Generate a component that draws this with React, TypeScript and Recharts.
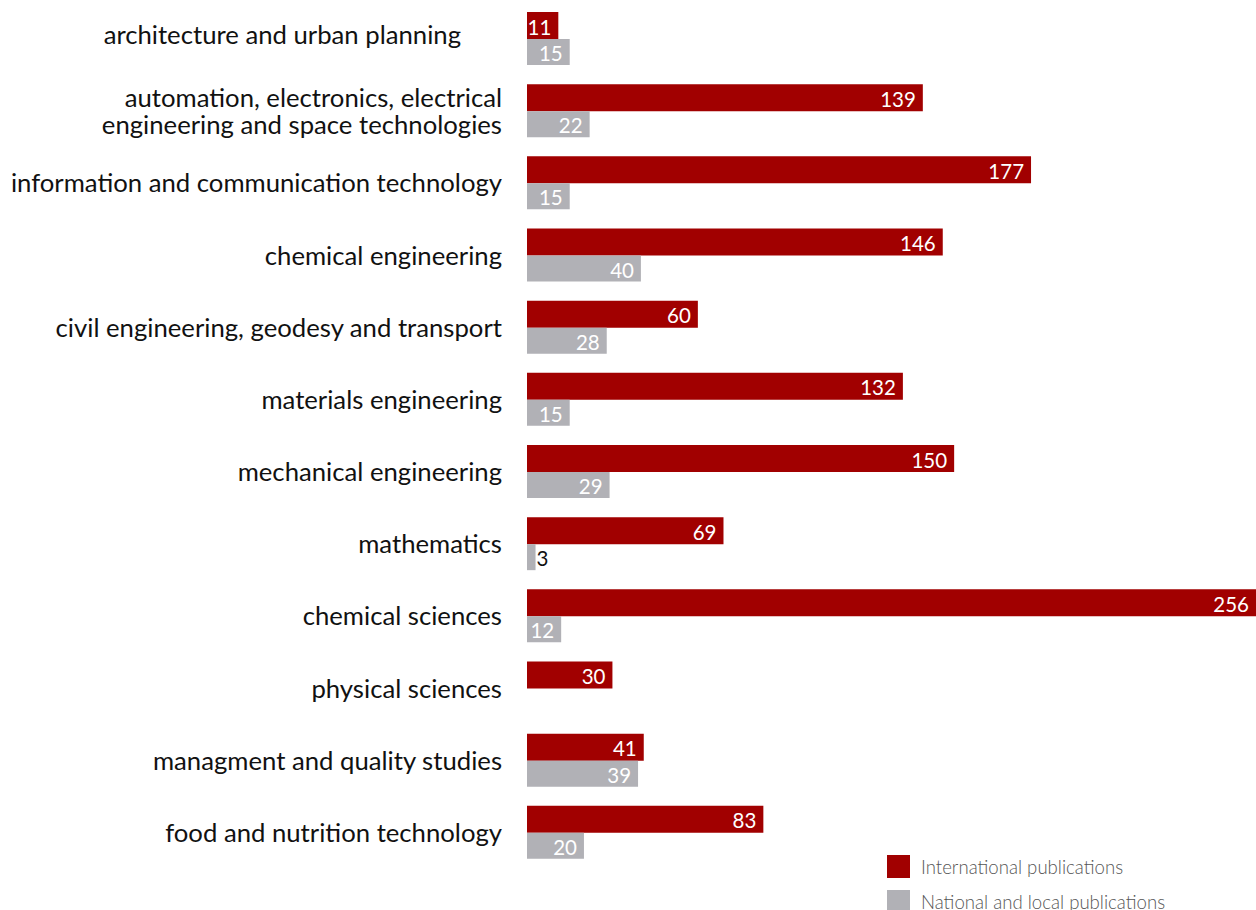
import React from "react";
import { BarChart, Bar, XAxis, YAxis, LabelList } from "recharts";

const categories = [
  "architecture and urban planning",
  "automation, electronics, electrical\nengineering and space technologies",
  "information and communication technology",
  "chemical engineering",
  "civil engineering, geodesy and transport",
  "materials engineering",
  "mechanical engineering",
  "mathematics",
  "chemical sciences",
  "physical sciences",
  "managment and quality studies",
  "food and nutrition technology",
];

const international = [11, 139, 177, 146, 60, 132, 150, 69, 256, 30, 41, 83];
const national: (number | null)[] = [15, 22, 15, 40, 28, 15, 29, 3, 12, null, 39, 20];

const seriesNames = ["International publications", "National and local publications"];

const RED = "#a10000";
const GREY = "#b1b1b6";
const FONT = "Lato, 'Open Sans', sans-serif";

const data = categories.map((name, i) => ({
  name,
  international: international[i],
  national: national[i],
}));

function CategoryTick(props: any) {
  const { x, y, payload } = props;
  const lines = String(payload.value).split("\n");
  const lh = 27;
  const start = y - ((lines.length - 1) * lh) / 2;
  // first label sits a bit left and higher in the original
  const shift = payload.index === 0 ? -41 : 0;
  const dy = payload.index === 0 ? -4 : 0;
  return (
    <text
      x={x + shift}
      y={start + dy}
      textAnchor="end"
      fontFamily={FONT}
      fontSize={25.7}
      fill="#111"
      dominantBaseline="central"
    >
      {lines.map((l, i) => (
        <tspan key={i} x={x + shift} y={start + dy + i * lh}>
          {l}
        </tspan>
      ))}
    </text>
  );
}

function ValueLabel(props: any) {
  const { x, y, width, height, value } = props;
  if (value == null) return null;
  const inside = width > 20;
  return (
    <text
      x={inside ? x + width - 7 : x + width + 1}
      y={y + height / 2 + 1}
      textAnchor={inside ? "end" : "start"}
      dominantBaseline="central"
      fontFamily={FONT}
      fontSize={20.5}
      fill={inside ? "#fff" : "#111"}
    >
      {value}
    </text>
  );
}

function LegendBox() {
  const colors = [RED, GREY];
  return (
    <div style={{ position: "absolute", left: 887, top: 849 }}>
      {seriesNames.map((label, i) => (
        <div key={label} style={{ display: "flex", alignItems: "center", height: 35 }}>
          <span
            style={{
              width: 23,
              height: 23,
              background: colors[i],
              marginRight: 11,
              display: "inline-block",
            }}
          />
          <span
            style={{
              fontFamily: FONT,
              fontWeight: 300,
              fontSize: 18.6,
              color: "#555",
              whiteSpace: "nowrap",
            }}
          >
            {label}
          </span>
        </div>
      ))}
    </div>
  );
}

export default function App() {
  return (
    <div
      style={{
        position: "absolute",
        left: 0,
        top: 0,
        width: 1256,
        height: 910,
        overflow: "hidden",
        background: "#fff",
      }}
    >
      <BarChart
        width={1256}
        height={910}
        data={data}
        layout="vertical"
        margin={{ top: 2, right: 0, bottom: 42, left: 0 }}
        barGap={0}
      >
        <XAxis type="number" hide domain={[0, 256]} />
        <YAxis
          type="category"
          dataKey="name"
          width={527}
          tickLine={false}
          axisLine={false}
          tickSize={0}
          tickMargin={25}
          interval={0}
          tick={<CategoryTick />}
        />
        <Bar dataKey="international" fill={RED} barSize={27} isAnimationActive={false}>
          <LabelList dataKey="international" content={<ValueLabel />} />
        </Bar>
        <Bar dataKey="national" fill={GREY} barSize={26} isAnimationActive={false}>
          <LabelList dataKey="national" content={<ValueLabel />} />
        </Bar>
      </BarChart>
      <LegendBox />
    </div>
  );
}
